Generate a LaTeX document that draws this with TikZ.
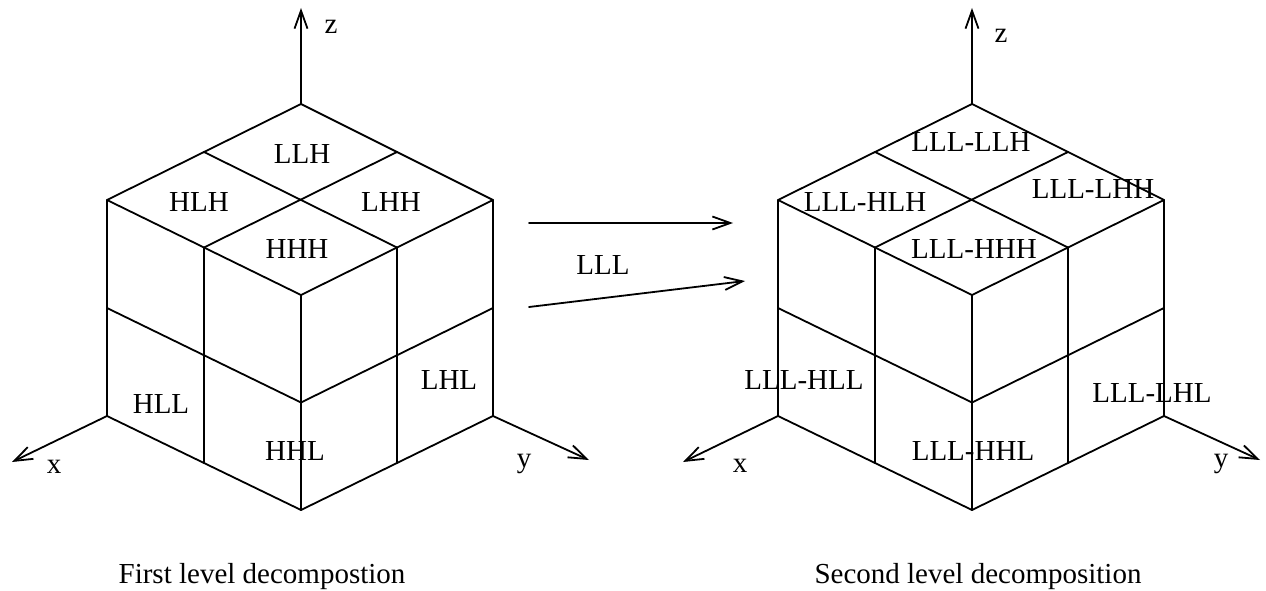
\documentclass[tikz,border=0pt]{standalone}
\usepackage{fontspec}
\setmainfont{Liberation Serif}
\usetikzlibrary{arrows.meta,calc}

\tikzset{
  edge/.style={line width=1.8pt, line cap=round, line join=round},
  axis/.style={edge, -{Straight Barb[length=18pt,width=13pt,line width=1.8pt]}},
  lbl/.style={inner sep=0pt, font=\fontsize{29}{32}\selectfont},
}

\begin{document}
\begin{tikzpicture}[x=1pt,y=-1pt]
\useasboundingbox (0,0) rectangle (1266,591);

% two cubes: name prefix / horizontal position of the top vertex
\foreach \c/\ox in {A/301,B/972}{
  % outer vertices of the cube
  \coordinate (\c T)  at (\ox,104);
  \coordinate (\c L)  at ($(\c T)+(-194,96)$);
  \coordinate (\c R)  at ($(\c T)+(192,96)$);
  \coordinate (\c F)  at ($(\c T)+(0,191)$);
  \coordinate (\c LB) at ($(\c T)+(-194,312)$);
  \coordinate (\c RB) at ($(\c T)+(192,312)$);
  \coordinate (\c FB) at ($(\c T)+(0,406)$);
  % axis ends
  \coordinate (\c zt) at ($(\c T)+(0,-96)$);
  \coordinate (\c xt) at ($(\c LB)+(-95,46)$);
  \coordinate (\c yt) at ($(\c RB)+(96,44)$);
  % subdivision points
  \coordinate (\c mTL) at ($(\c T)!0.5!(\c L)$);
  \coordinate (\c mTR) at ($(\c T)!0.5!(\c R)$);
  \coordinate (\c mLF) at ($(\c L)!0.5!(\c F)$);
  \coordinate (\c mRF) at ($(\c R)!0.5!(\c F)$);
  \coordinate (\c mLL) at ($(\c L)!0.5!(\c LB)$);
  \coordinate (\c mFF) at ($(\c F)!0.5!(\c FB)$);
  \coordinate (\c mRR) at ($(\c R)!0.5!(\c RB)$);
  \coordinate (\c bL)  at ($(\c LB)!0.5!(\c FB)$);
  \coordinate (\c bR)  at ($(\c RB)!0.5!(\c FB)$);

  % outline
  \draw[edge] (\c T) -- (\c L) -- (\c LB) -- (\c FB) -- (\c RB) -- (\c R) -- cycle;
  \draw[edge] (\c L) -- (\c F) -- (\c R);
  \draw[edge] (\c F) -- (\c FB);
  % top face split
  \draw[edge] (\c mTL) -- (\c mRF);
  \draw[edge] (\c mTR) -- (\c mLF);
  % side faces split
  \draw[edge] (\c mLF) -- (\c bL);
  \draw[edge] (\c mRF) -- (\c bR);
  \draw[edge] (\c mLL) -- (\c mFF) -- (\c mRR);
  % axes
  \draw[axis] (\c T) -- (\c zt);
  \draw[axis] (\c LB) -- (\c xt);
  \draw[axis] (\c RB) -- (\c yt);
}

% axis labels
\node[lbl] (Az) at (331,27) {z};
\node[lbl] (Ax) at (54,467) {x};
\node[lbl] (Ay) at (524,464) {y};
\node[lbl] (Bz) at (1001,36) {z};
\node[lbl] (Bx) at (740,466) {x};
\node[lbl] (By) at (1221,464) {y};

% first level sub-bands
\node[lbl] (llh) at (302,154) {LLH};
\node[lbl] (hlh) at (199,202) {HLH};
\node[lbl] (lhh) at (391,202) {LHH};
\node[lbl] (hhh) at (297,249) {HHH};
\node[lbl] (hll) at (161,404) {HLL};
\node[lbl] (hhl) at (295,451) {HHL};
\node[lbl] (lhl) at (449,380) {LHL};

% second level sub-bands
\node[lbl] (sllh) at (971,142) {LLL-LLH};
\node[lbl] (shlh) at (865,202) {LLL-HLH};
\node[lbl] (slhh) at (1093,189) {LLL-LHH};
\node[lbl] (shhh) at (974,249) {LLL-HHH};
\node[lbl] (shll) at (804,380) {LLL-HLL};
\node[lbl] (shhl) at (973,451) {LLL-HHL};
\node[lbl] (slhl) at (1152,393) {LLL-LHL};

% transition arrows
\coordinate (a1s) at (529,223);
\coordinate (a1e) at (733,223);
\coordinate (a2s) at (529,307);
\coordinate (a2e) at (745,281);
\draw[axis] (a1s) -- (a1e);
\draw[axis] (a2s) -- (a2e);
\node[lbl] (lll) at (603,265) {LLL};

% captions
\node[lbl, anchor=base] (cap1) at (262,583) {First level decompostion};
\node[lbl, anchor=base] (cap2) at (978,583) {Second level decomposition};
\end{tikzpicture}
\end{document}
